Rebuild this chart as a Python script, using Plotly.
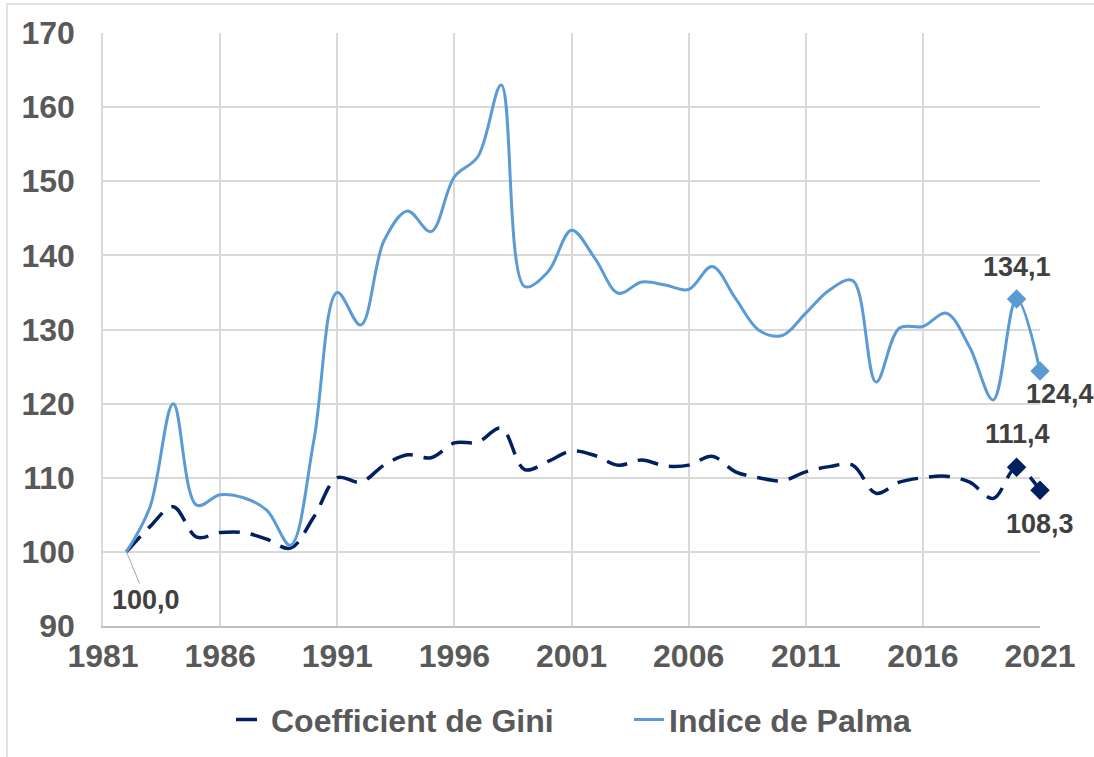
import plotly.graph_objects as go

years = list(range(1982, 2022))
palma = [100.0, 106.0, 120.0, 106.3, 107.7, 107.3, 105.6, 100.9, 115.0, 135.0,
         130.6, 142.0, 146.0, 143.2, 150.6, 153.3, 163.0, 135.8, 137.8, 143.4,
         139.6, 134.9, 136.4, 136.0, 135.4, 138.5, 134.2, 129.9, 129.2, 132.2,
         135.3, 136.6, 122.9, 130.2, 130.4, 132.2, 127.6, 120.5, 134.1, 124.4]
gini = [100.0, 103.4, 106.1, 102.0, 102.6, 102.6, 101.7, 100.5, 104.7, 110.0,
        109.4, 111.7, 113.1, 112.7, 114.7, 114.8, 116.7, 111.1, 112.2, 113.6,
        113.0, 111.7, 112.4, 111.6, 111.7, 112.9, 110.8, 110.0, 109.6, 110.8,
        111.5, 111.7, 107.9, 109.4, 110.0, 110.2, 109.4, 107.2, 111.4, 108.3]

x_ticks = list(range(1981, 2022, 5))
y_ticks = list(range(90, 171, 10))

C_PALMA = "#5B9BD5"
C_GINI = "#002060"
FONT = "Liberation Sans"

fig = go.Figure()
fig.add_trace(go.Scatter(x=years, y=gini, mode="lines", name="Coefficient de Gini",
                         line=dict(color=C_GINI, width=3.5, dash="21px,11px",
                                   shape="spline", smoothing=1.0)))
fig.add_trace(go.Scatter(x=years, y=palma, mode="lines", name="Indice de Palma",
                         line=dict(color=C_PALMA, width=3,
                                   shape="spline", smoothing=1.0)))
# end-point markers
fig.add_trace(go.Scatter(x=years[-2:], y=gini[-2:], mode="markers", showlegend=False,
                         cliponaxis=False,
                         marker=dict(symbol="diamond", size=15, color=C_GINI)))
fig.add_trace(go.Scatter(x=years[-2:], y=palma[-2:], mode="markers", showlegend=False,
                         cliponaxis=False,
                         marker=dict(symbol="diamond", size=15, color=C_PALMA)))

def fmt(v):
    return f"{v:.1f}".replace(".", ",")

lab_font = dict(family=FONT, size=27, color="#404040", weight="bold")
fig.add_annotation(x=years[0], y=palma[0], text=fmt(palma[0]), showarrow=True,
                   arrowhead=0, arrowwidth=1, arrowcolor="#a6a6a6",
                   ax=20, ay=48, font=lab_font)
fig.add_annotation(x=years[-2], y=palma[-2], text=fmt(palma[-2]), showarrow=False,
                   yshift=32, font=lab_font)
fig.add_annotation(x=years[-1], y=palma[-1], text=fmt(palma[-1]), showarrow=False,
                   xshift=20, yshift=-23, font=lab_font)
fig.add_annotation(x=years[-2], y=gini[-2], text=fmt(gini[-2]), showarrow=False,
                   xshift=1, yshift=33, font=lab_font)
fig.add_annotation(x=years[-1], y=gini[-1], text=fmt(gini[-1]), showarrow=False,
                   yshift=-34, font=lab_font)

# outer chart border (top and left edges visible)
fig.add_shape(type="rect", xref="paper", yref="paper",
              x0=(7 - 103) / 937, x1=(1110 - 103) / 937,
              y0=(626 - 770) / 593, y1=(626 - 4) / 593,
              line=dict(color="#d9d9d9", width=1.5), fillcolor="rgba(0,0,0,0)", layer="below")

tick_font = dict(family=FONT, size=32, color="#595959", weight="bold")
fig.update_layout(
    width=1094, height=757,
    margin=dict(l=103, r=54, t=33, b=131, autoexpand=False),
    paper_bgcolor="white", plot_bgcolor="white",
    showlegend=True,
    legend=dict(orientation="h", x=(231 - 103) / 937, xanchor="left", y=-0.158, yanchor="middle",
                font=dict(family=FONT, size=32, color="#595959", weight="bold"),
                entrywidth=353, entrywidthmode="pixels", tracegroupgap=0),
    xaxis=dict(range=[1981, 2021], tickmode="array", tickvals=x_ticks,
               tickfont=tick_font, showgrid=True, gridcolor="#d9d9d9", gridwidth=1.5,
               showline=True, linecolor="#bfbfbf", linewidth=1.5, ticks="",
               ticklabelstandoff=1, zeroline=False, automargin=False),
    yaxis=dict(range=[90, 170], tickmode="array", tickvals=y_ticks,
               tickfont=tick_font, showgrid=True, gridcolor="#d9d9d9", gridwidth=1.5,
               showline=True, linecolor="#d9d9d9", linewidth=1.5, ticks="",
               ticklabelstandoff=20, zeroline=False, automargin=False),
)

fig.write_html("out.html", config={"displayModeBar": False},
               post_script="document.body.style.margin='0';")
